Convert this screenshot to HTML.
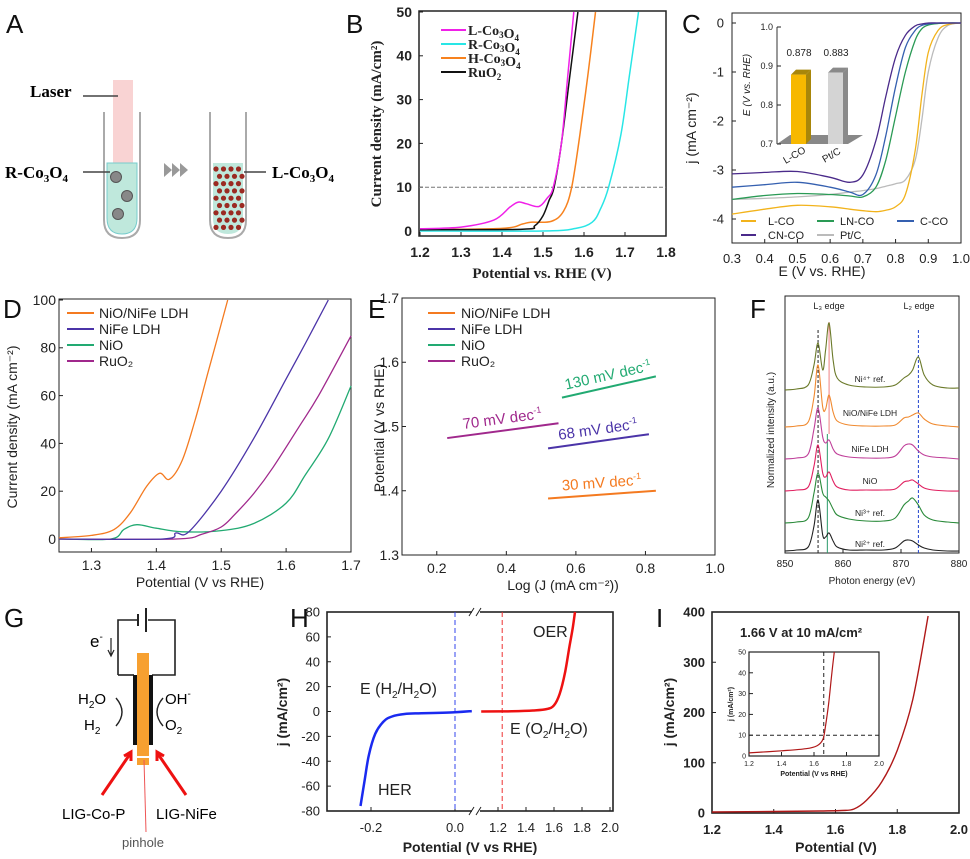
<!DOCTYPE html>
<html><head><meta charset="utf-8">
<style>
html,body{margin:0;padding:0;background:#fff;}
svg{display:block;font-family:"Liberation Sans",sans-serif;}
.s{font-family:"Liberation Serif",serif;font-weight:bold;}
</style></head>
<body>
<svg id="fig" xmlns="http://www.w3.org/2000/svg" width="970" height="859" viewBox="0 0 970 859">
<rect width="970" height="859" fill="#fff"/>
<g font-size="26" fill="#111">
<text x="6" y="33">A</text>
<text x="346" y="33">B</text>
<text x="682" y="33">C</text>
<text x="3" y="318">D</text>
<text x="368" y="318">E</text>
<text x="750" y="318">F</text>
<text x="4" y="627">G</text>
<text x="290" y="627">H</text>
<text x="656" y="627">I</text>
</g>
<g>
<rect x="113" y="80" width="20" height="84" fill="#f8c8c8" opacity="0.8"/>
<text x="30" y="97" class="s" font-size="17">Laser</text>
<line x1="83" y1="96" x2="118" y2="96" stroke="#444" stroke-width="1.5"/>
<path d="M104 112 L104 220 Q104 238 122 238 Q140 238 140 220 L140 112" fill="none" stroke="#aaa" stroke-width="2"/>
<path d="M107 163 L137 163 L137 218 Q137 234 122 234 Q107 234 107 218Z" fill="#bfe8dc" stroke="#7cc"/>
<circle cx="116" cy="177" r="5.5" fill="#888" stroke="#555"/>
<circle cx="127" cy="196" r="5.5" fill="#888" stroke="#555"/>
<circle cx="118" cy="214" r="5.5" fill="#888" stroke="#555"/>
<text x="5" y="178" class="s" font-size="17">R-Co<tspan font-size="11" dy="4">3</tspan><tspan dy="-4">O</tspan><tspan font-size="11" dy="4">4</tspan></text>
<line x1="83" y1="172" x2="110" y2="172" stroke="#444" stroke-width="1.5"/>
<path d="M164 163 l8 7 l-8 7Z M172 163 l8 7 l-8 7Z M180 163 l8 7 l-8 7Z" fill="#999"/>
<path d="M210 112 L210 220 Q210 238 228 238 Q246 238 246 220 L246 112" fill="none" stroke="#aaa" stroke-width="2"/>
<path d="M213 163 L243 163 L243 218 Q243 234 228 234 Q213 234 213 218Z" fill="#bfe8dc"/>
<g fill="#9b2a22" id="dots"></g>
<text x="272" y="178" class="s" font-size="17">L-Co<tspan font-size="11" dy="4">3</tspan><tspan dy="-4">O</tspan><tspan font-size="11" dy="4">4</tspan></text>
<line x1="244" y1="172" x2="266" y2="172" stroke="#444" stroke-width="1.5"/>
</g>
<g font-size="15">
<path d="M118 675 L118 620 L138 620 M148 620 L175 620 L175 675 L152 675" fill="none" stroke="#222" stroke-width="1.6"/>
<line x1="138" y1="614" x2="138" y2="626" stroke="#222" stroke-width="2"/>
<line x1="146" y1="608" x2="146" y2="632" stroke="#222" stroke-width="2"/>
<line x1="118" y1="675" x2="134" y2="675" stroke="#222" stroke-width="1.6"/>
<text x="90" y="647" font-size="17">e<tspan font-size="10" dy="-7">-</tspan></text>
<path d="M111 638 L111 655 M108 650 L111 656 L114 650" stroke="#222" fill="none" stroke-width="1.2"/>
<rect x="137" y="653" width="12" height="112" fill="#f7a030"/>
<rect x="133" y="675" width="4" height="70" fill="#111"/>
<rect x="149" y="675" width="4" height="70" fill="#111"/>
<rect x="137" y="756" width="12" height="2" fill="#fff"/>
<text x="78" y="704">H<tspan font-size="10" dy="4">2</tspan><tspan dy="-4">O</tspan></text>
<text x="84" y="730">H<tspan font-size="10" dy="4">2</tspan></text>
<text x="165" y="704">OH<tspan font-size="10" dy="-7">-</tspan></text>
<text x="165" y="730">O<tspan font-size="10" dy="4">2</tspan></text>
<path d="M116 698 Q128 712 116 726" fill="none" stroke="#222" stroke-width="1.4"/>
<path d="M163 698 Q151 712 163 726" fill="none" stroke="#222" stroke-width="1.4"/>
<path d="M102 795 L130 754 M124 756 L131 752 L131 761" stroke="#e11" stroke-width="3" fill="none"/>
<path d="M186 795 L158 754 M164 756 L157 752 L157 761" stroke="#e11" stroke-width="3" fill="none"/>
<text x="62" y="819">LIG-Co-P</text>
<text x="156" y="819">LIG-NiFe</text>
<line x1="144" y1="760" x2="146" y2="832" stroke="#e55" stroke-width="1"/>
<text x="122" y="847" font-size="13" fill="#555">pinhole</text>
</g>
<g id="charts"></g>
</svg>
<script>
// ---------- DATA ----------
const bX_L = [1.2,1.3,1.38,1.42,1.44,1.46,1.49,1.51,1.525,1.545,1.56,1.575];
const bY_L = [0.5,0.9,2.5,5.5,6.6,6.2,5.6,7.5,10,20,35,50];
const bX_R = [1.2,1.5,1.58,1.62,1.64,1.66,1.69,1.71,1.733];
const bY_R = [0,0,0.6,2,5,10,22,35,50];
const bX_H = [1.2,1.4,1.45,1.47,1.52,1.55,1.57,1.59,1.61,1.628];
const bY_H = [0.3,0.6,1.6,2,2.2,4.5,10,22,36,50];
const bX_Ru = [1.2,1.45,1.48,1.5,1.515,1.527,1.545,1.565,1.585];
const bY_Ru = [0.3,0.4,1.2,3.5,7,10,20,35,50];
const bXticks = [1.2,1.3,1.4,1.5,1.6,1.7,1.8];
const bYticks = [0,10,20,30,40,50];
const cE = [0.3,0.4,0.5,0.6,0.66,0.7,0.74,0.77,0.8,0.83,0.86,0.88,0.9,0.93,0.96,1.0];
const cLCO = [-3.9,-3.8,-3.72,-3.75,-3.8,-3.83,-3.85,-3.82,-3.75,-3.5,-2.6,-1.5,-0.6,-0.15,-0.03,0];
const cLNCO = [-3.6,-3.52,-3.48,-3.5,-3.53,-3.55,-3.35,-2.8,-1.9,-1.0,-0.35,-0.12,-0.04,-0.01,0,0];
const cCCO = [-3.35,-3.3,-3.25,-3.35,-3.45,-3.5,-3.1,-2.3,-1.3,-0.5,-0.15,-0.05,-0.02,0,0,0];
const cCNCO = [-3.08,-3.05,-3.03,-3.15,-3.25,-3.1,-2.4,-1.5,-0.7,-0.25,-0.06,-0.02,0,0,0,0];
const cPtC = [-3.6,-3.58,-3.55,-3.5,-3.45,-3.42,-3.38,-3.33,-3.28,-3.2,-2.8,-2.0,-1.0,-0.3,-0.05,0];
const cXticks = [0.3,0.4,0.5,0.6,0.7,0.8,0.9,1.0];
const cYticks = [0,-1,-2,-3,-4];
const insetCats = ["L-CO","Pt/C"];
const insetVals = [0.878,0.883];
const insetYticks = [0.7,0.8,0.9,1.0];
const dX1 = [1.25,1.3,1.335,1.36,1.385,1.405,1.42,1.44,1.46,1.48,1.51];
const dY1 = [0.5,1.5,4,11,22,27.5,25,33,50,70,100];
const dX2 = [1.25,1.41,1.43,1.45,1.5,1.55,1.6,1.63,1.665];
const dY2 = [0,0,2.5,3,20,42,67,82,100];
const dX3 = [1.25,1.33,1.35,1.37,1.4,1.44,1.5,1.55,1.6,1.63,1.665,1.7];
const dY3 = [0,0,4,6,4.5,3,3.5,6.5,15,27,42,64];
const dX4 = [1.25,1.43,1.47,1.5,1.52,1.55,1.58,1.62,1.65,1.7];
const dY4 = [0,0,2,5,10,19,30,47,60,85];
const dXticks = [1.3,1.4,1.5,1.6,1.7];
const dYticks = [0,20,40,60,80,100];
const eX0 = [0.52,0.52,0.56,0.23];
const eX1 = [0.83,0.81,0.83,0.55];
const eV0 = [1.388,1.466,1.545,1.482];
const eV1 = [1.400,1.488,1.578,1.505];
const eSlopes = ["30 mV dec","68 mV dec","130 mV dec","70 mV dec"];
const eXticks = [0.2,0.4,0.6,0.8,1.0];
const eYticks = [1.3,1.4,1.5,1.6,1.7];
const fE = [850,852,854,855,855.7,856.5,857,857.6,858.3,859,861,864,867,869,870.5,871.3,872,873,874,875.5,878,880];
const fNi4 = [0,1,5,25,47,20,40,67,30,12,5,3,3,5,12,15,20,33,15,5,2,2];
const fNiONiFe = [0,1,5,30,62,20,18,32,15,6,2,1,1,2,9,10,12,14,8,3,1,0];
const fNiFe = [0,1,5,30,51,22,16,19,10,5,2,1,1,3,13,15,14,8,4,2,1,0];
const fNiO = [0,1,4,25,46,18,14,19,10,4,1,1,1,2,9,10,11,7,3,1,0,0];
const fNi3 = [0,1,5,30,50,30,26,22,14,8,4,2,2,5,18,22,25,18,8,3,1,0];
const fNi2 = [0,1,4,25,51,16,14,18,10,4,1,1,1,3,10,11,10,6,3,1,0,0];
const fXticks = [850,860,870,880];
const hXher = [-0.225,-0.215,-0.205,-0.19,-0.17,-0.15,-0.12,-0.08,0,0.04];
const hYher = [-76,-55,-35,-18,-8,-4,-2,-1.4,-0.6,0.3];
const hXoer = [1.08,1.3,1.45,1.55,1.6,1.64,1.68,1.71,1.735,1.75];
const hYoer = [0,0.2,0.8,2,5,14,32,52,68,80];
const hYticks = [-80,-60,-40,-20,0,20,40,60,80];
const hXticksL = [-0.2,0.0];
const hXticksR = [1.2,1.4,1.6,1.8,2.0];
const iX = [1.2,1.4,1.55,1.62,1.66,1.7,1.75,1.8,1.85,1.9];
const iY = [2,3,4,5,8,25,62,125,225,392];
const iInX = [1.2,1.4,1.55,1.62,1.655,1.67,1.69,1.71,1.725];
const iInY = [1.5,2.5,3.5,5,8,14,25,40,50];
const iXticks = [1.2,1.4,1.6,1.8,2.0];
const iYticks = [0,100,200,300,400];
const iInXticks = [1.2,1.4,1.6,1.8,2.0];
const iInYticks = [0,10,20,30,40,50];

// ---------- HELPERS ----------
const NS = "http://www.w3.org/2000/svg";
const root = document.getElementById('charts');
function mk(tag, attrs, parent){const e=document.createElementNS(NS,tag);for(const k in attrs)e.setAttribute(k,attrs[k]);(parent||root).appendChild(e);return e;}
function lin(d0,d1,p0,p1){return v=>p0+(v-d0)/(d1-d0)*(p1-p0);}
function smooth(pts){let d="M"+pts[0][0].toFixed(1)+" "+pts[0][1].toFixed(1);
 for(let i=0;i<pts.length-1;i++){const p0=pts[Math.max(0,i-1)],p1=pts[i],p2=pts[i+1],p3=pts[Math.min(pts.length-1,i+2)];
 const c1=[p1[0]+(p2[0]-p0[0])/6,p1[1]+(p2[1]-p0[1])/6],c2=[p2[0]-(p3[0]-p1[0])/6,p2[1]-(p3[1]-p1[1])/6];
 d+=" C"+c1[0].toFixed(1)+" "+c1[1].toFixed(1)+" "+c2[0].toFixed(1)+" "+c2[1].toFixed(1)+" "+p2[0].toFixed(1)+" "+p2[1].toFixed(1);}return d;}
function curve(xs,ys,fx,fy,color,w,name){const pts=xs.map((x,i)=>[fx(x),fy(ys[i])]);
 const p=mk('path',{d:smooth(pts),fill:'none',stroke:color,'stroke-width':w||1.4});
 
 
 return p;}
function txt(x,y,s,size,anchor,extra){const t=mk('text',Object.assign({x:x,y:y,'font-size':size,'text-anchor':anchor||'middle',fill:'#222'},extra||{}));t.textContent=s;return t;}
function box(x0,y0,x1,y1,name,w){const r=mk('rect',{x:x0,y:y0,width:x1-x0,height:y1-y0,fill:'none',stroke:'#222','stroke-width':w||1.2});
 
 }
function xTicks(ticks,fx,yAxis,yLab,size,fmt,prefix,extra){ticks.forEach(v=>{const x=fx(v);
 const l=mk('line',{x1:x,y1:yAxis,x2:x,y2:yAxis-4,stroke:'#222'});
 
 
 const t=txt(x,yLab,fmt(v),size,'middle',extra);
 
 });}
function yTicks(ticks,fy,xAxis,xLab,size,fmt,prefix,extra){ticks.forEach(v=>{const y=fy(v);
 const l=mk('line',{x1:xAxis,y1:y,x2:xAxis+4,y2:y,stroke:'#222'});
 
 
 const t=txt(xLab,y+size*0.35,fmt(v),size,'end',extra);
 
 });}
function legendLine(x1,x2,y,color,label,tx,size,name,extra){const l=mk('line',{x1:x1,y1:y,x2:x2,y2:y,stroke:color,'stroke-width':2});
 
 
 const t=txt(tx,y+size*0.35,label,size,'start',extra);
 
 return t;}
function rotTitle(x,y,s,size,name,extra){const t=txt(x,y,s,size,'middle',Object.assign({transform:'rotate(-90 '+x+' '+y+')'},extra||{}));
 
 return t;}
function sub(t,s){const a=mk('tspan',{'font-size':9,dy:3},t);a.textContent=s;const b=mk('tspan',{dy:-3},t);b.textContent='';return t;}
const f1=v=>v.toFixed(1), f0=v=>String(v);

const dots=document.getElementById('dots');
for(let r=0;r<9;r++)for(let c=0;c<4;c++){const cx=216+c*7.5+(r%2)*3.5, cy=169+r*7.3; if(cy>230&&(c==0||c==3))continue;
 mk('circle',{cx:cx,cy:cy,r:2.6},dots);}

// ---------- PANEL B ----------
{const fx=lin(1.2,1.8,420,666), fy=lin(0,50,231,12);
box(419,11,666,236,'b-plot-frame',1.5);
xTicks(bXticks,fx,236,257,14,f1,'b',{'font-weight':'bold'});
yTicks(bYticks,fy,419,412,14,f0,'b',{'font-weight':'bold'});
const dl=mk('line',{x1:419,y1:fy(10),x2:666,y2:fy(10),stroke:'#777','stroke-dasharray':'4,2'});


curve(bX_R,bY_R,fx,fy,'#28e6e6',1.5,'b-series-r-co3o4');
curve(bX_H,bY_H,fx,fy,'#f7821e',1.5,'b-series-h-co3o4');
curve(bX_Ru,bY_Ru,fx,fy,'#111',1.5,'b-series-ruo2');
curve(bX_L,bY_L,fx,fy,'#f020e8',1.5,'b-series-l-co3o4');
const ser={'class':'s'};
const mkCo=(t)=>{sub(t,'3');const o=mk('tspan',{},t);o.textContent='O';sub(t,'4');};
mkCo(legendLine(441,466,30,'#f020e8','L-Co',468,14,'b-legend-l-co3o4',ser));
mkCo(legendLine(441,466,44,'#28e6e6','R-Co',468,14,'b-legend-r-co3o4',ser));
mkCo(legendLine(441,466,58,'#f7821e','H-Co',468,14,'b-legend-h-co3o4',ser));
sub(legendLine(441,466,72,'#111','RuO',468,14,'b-legend-ruo2',ser),'2');
rotTitle(381,124,'Current density (mA/cm²)',15,'b-y-axis-title',ser);
const xt=txt(542,278,'Potential vs. RHE (V)',15,'middle',ser);

}

// ---------- PANEL C ----------
{const fx=lin(0.3,1.0,732,961), fy=lin(0,-4,23,219);
box(732,13,961,243,'c-plot-frame',1);
xTicks(cXticks,fx,243,263,13,f1,'c');
yTicks(cYticks,fy,732,724,13,f0,'c');
curve(cE,cPtC,fx,fy,'#bbb',1.3,'c-series-ptc');
curve(cE,cLCO,fx,fy,'#f2b31c',1.3,'c-series-l-co');
curve(cE,cLNCO,fx,fy,'#2a9a55',1.3,'c-series-ln-co');
curve(cE,cCCO,fx,fy,'#3560b0',1.3,'c-series-c-co');
curve(cE,cCNCO,fx,fy,'#4a2a8a',1.3,'c-series-cn-co');
legendLine(741,756,221,'#f2b31c','L-CO',768,11,'c-legend-l-co');
legendLine(817,834,221,'#2a9a55','LN-CO',840,11,'c-legend-ln-co');
legendLine(897,914,221,'#3560b0','C-CO',920,11,'c-legend-c-co');
legendLine(741,756,235,'#4a2a8a','CN-CO',768,11,'c-legend-cn-co');
legendLine(817,834,235,'#bbb','Pt/C',840,11,'c-legend-ptc');
rotTitle(696,128,'j (mA cm⁻²)',14,'c-y-axis-title');
const xt=txt(822,276,'E (V vs. RHE)',14);


const iy=lin(0.7,1.0,144,27);
const ax=mk('path',{d:'M777 27 L777 144',stroke:'#333',fill:'none'});


const fl=mk('polygon',{points:'777,144 848,144 863,135 790,135',fill:'#888'});


yTicks(insetYticks,iy,777,773,9,f1,'c-inset');
const bcol=['#f7b800','#d4d4d4'], scol=['#a8860a','#8a8a8a'];
insetCats.forEach((c,i)=>{const x0=791+i*37, w=15, yt=iy(insetVals[i]);
 const side=mk('polygon',{points:[x0+w,yt, x0+w+5,yt-5, x0+w+5,139, x0+w,144].join(' '),fill:scol[i]});
 
 
 const top=mk('polygon',{points:[x0,yt, x0+5,yt-5, x0+w+5,yt-5, x0+w,yt].join(' '),fill:scol[i]});
 
 
 const b=mk('rect',{x:x0,y:yt,width:w,height:144-yt,fill:bcol[i]});
 
 
 const v=txt(x0+8,56,insetVals[i].toFixed(3),10);
 
 
 const l=txt(x0+5,158,c,10,'middle',{transform:'rotate(-30 '+(x0+5)+' 158)'});
 
 });
rotTitle(750,85,'E (V vs. RHE)',10,'c-inset-y-axis-title',{'font-style':'italic'});}

// ---------- PANEL D ----------
{const fx=lin(1.25,1.7,59,351), fy=lin(0,100,539,300);
box(59,299,351,552,'d-plot-frame',1);
xTicks(dXticks,fx,552,570,14,f1,'d');
yTicks(dYticks,fy,59,56,14,f0,'d');
curve(dX3,dY3,fx,fy,'#22aa72',1.3,'d-series-nio');
curve(dX4,dY4,fx,fy,'#a0288c',1.3,'d-series-ruo2');
curve(dX2,dY2,fx,fy,'#4b34a8',1.3,'d-series-nife-ldh');
curve(dX1,dY1,fx,fy,'#f47a20',1.3,'d-series-nio-nife-ldh');
legendLine(67,94,313,'#f47a20','NiO/NiFe LDH',99,14,'d-legend-nio-nife-ldh');
legendLine(67,94,329,'#4b34a8','NiFe LDH',99,14,'d-legend-nife-ldh');
legendLine(67,94,345,'#22aa72','NiO',99,14,'d-legend-nio');
legendLine(67,94,361,'#a0288c','RuO₂',99,14,'d-legend-ruo2');
rotTitle(17,427,'Current density (mA cm⁻²)',14,'d-y-axis-title');
const xt=txt(200,587,'Potential (V vs RHE)',14);

}

// ---------- PANEL E ----------
{const fx=lin(0.1,1.0,402,715), fy=lin(1.3,1.7,555,298);
box(402,298,715,555,'e-plot-frame',1);
xTicks(eXticks,fx,555,573,14,f1,'e');
yTicks(eYticks,fy,402,399,14,f1,'e');
const cols=['#f47a20','#4b34a8','#22aa72','#a0288c'];
const nm=['e-tafel-nio-nife-ldh','e-tafel-nife-ldh','e-tafel-nio','e-tafel-ruo2'];
eX0.forEach((x0,i)=>{const X0=fx(x0),Y0=fy(eV0[i]),X1=fx(eX1[i]),Y1=fy(eV1[i]);
 const l=mk('line',{x1:X0,y1:Y0,x2:X1,y2:Y1,stroke:cols[i],'stroke-width':2});
 
 
 const ang=Math.atan2(Y1-Y0,X1-X0)*180/Math.PI, mx=(X0+X1)/2, my=(Y0+Y1)/2-7;
 const t=txt(mx,my,eSlopes[i],15,'middle',{fill:cols[i],transform:'rotate('+ang.toFixed(1)+' '+mx+' '+my+')'});
 const s=mk('tspan',{'font-size':9,dy:-6},t); s.textContent='-1';
 
 });
legendLine(428,455,313,'#f47a20','NiO/NiFe LDH',461,14,'e-legend-nio-nife-ldh');
legendLine(428,455,329,'#4b34a8','NiFe LDH',461,14,'e-legend-nife-ldh');
legendLine(428,455,345,'#22aa72','NiO',461,14,'e-legend-nio');
legendLine(428,455,361,'#a0288c','RuO₂',461,14,'e-legend-ruo2');
rotTitle(384,428,'Potential (V vs RHE)',14,'e-y-axis-title');
const xt=txt(563,590,'Log (J (mA cm⁻²))',14);

}

// ---------- PANEL F ----------
{const fx=lin(850,880,785,959);
box(785,296,959,553,'f-plot-frame',1);
xTicks(fXticks,fx,553,567,10,f0,'f');
const series=[[fNi4,390,'#6b7a2a','Ni⁴⁺ ref.','f-spectrum-ni4-ref',382],[fNiONiFe,427,'#f08a30','NiO/NiFe LDH','f-spectrum-nio-nife-ldh',416],
 [fNiFe,459,'#c0409a','NiFe LDH','f-spectrum-nife-ldh',452],[fNiO,491,'#e02060','NiO','f-spectrum-nio',484],
 [fNi3,523,'#2a8a3a','Ni³⁺ ref.','f-spectrum-ni3-ref',516],[fNi2,551,'#222','Ni²⁺ ref.','f-spectrum-ni2-ref',547]];
const v1=mk('line',{x1:fx(855.7),y1:330,x2:fx(855.7),y2:553,stroke:'#222','stroke-dasharray':'3,2'});


const v2=mk('line',{x1:fx(873),y1:330,x2:fx(873),y2:553,stroke:'#2244cc','stroke-dasharray':'3,2'});


const v3=mk('line',{x1:fx(857.6),y1:322,x2:fx(857.6),y2:434,stroke:'#f08080'});


const v4=mk('line',{x1:fx(857.3),y1:434,x2:fx(857.3),y2:553,stroke:'#2a9a6a'});


const fy0=lin(0,1,0,-1);
series.forEach(s=>{const base=s[1]; curve(fE,s[0],fx,v=>base+fy0(v),s[2],1.1,s[4]);
 const t=txt(870,s[5],s[3],8.5);  });
const a=txt(829,309,'L₃ edge',9);  
const b=txt(919,309,'L₂ edge',9);  
rotTitle(774,430,'Normalized intensity (a.u.)',10,'f-y-axis-title');
const xt=txt(872,584,'Photon energy (eV)',10);

}

// ---------- PANEL H ----------
{const fxL=lin(-0.3,0.0,329,455), fxR=lin(1.2,2.0,498,610), fy=lin(-80,80,811,612);
box(327,612,613,811,'h-plot-frame',1.6);
yTicks(hYticks,fy,327,320,13,f0,'h');
xTicks(hXticksL,fxL,811,832,13,f1,'h');
xTicks(hXticksR,fxR,811,832,13,f1,'h');
[612,811].forEach(y=>{const g=mk('rect',{x:472,y:y-3,width:8,height:6,fill:'#fff'});
 
 
 const p=mk('path',{d:'M469 '+(y+4)+' l5 -8 M476 '+(y+4)+' l5 -8',stroke:'#222',fill:'none'});
 
 });
const b=mk('line',{x1:fxL(0),y1:612,x2:fxL(0),y2:811,stroke:'#3344ee','stroke-dasharray':'5,3'});


const r=mk('line',{x1:fxR(1.23),y1:612,x2:fxR(1.23),y2:811,stroke:'#ee3333','stroke-dasharray':'5,3'});


curve(hXher,hYher,fxL,fy,'#1a2af0',2.5,'h-series-her');
curve(hXoer,hYoer,v=>v<1.2?fxR(1.2)-(1.2-v)*140:fxR(v),fy,'#ee1111',2.5,'h-series-oer');
[['OER',533,637,'h-oer-label'],['HER',378,795,'h-her-label']].forEach(a=>{const t=txt(a[1],a[2],a[0],16,'start');});
const e1=txt(360,694,'E (H',16,'start'); const s1=mk('tspan',{'font-size':10,dy:4},e1); s1.textContent='2'; const s2=mk('tspan',{dy:-4},e1); s2.textContent='/H'; const s3=mk('tspan',{'font-size':10,dy:4},e1); s3.textContent='2'; const s4=mk('tspan',{dy:-4},e1); s4.textContent='O)';
 
const e2=txt(510,734,'E (O',16,'start'); const t1=mk('tspan',{'font-size':10,dy:4},e2); t1.textContent='2'; const t2=mk('tspan',{dy:-4},e2); t2.textContent='/H'; const t3=mk('tspan',{'font-size':10,dy:4},e2); t3.textContent='2'; const t4=mk('tspan',{dy:-4},e2); t4.textContent='O)';
 
rotTitle(287,712,'j (mA/cm²)',14,'h-y-axis-title',{'font-weight':'bold'});
const xt=txt(470,852,'Potential (V vs RHE)',14,'middle',{'font-weight':'bold'});

}

// ---------- PANEL I ----------
{const fx=lin(1.2,2.0,712,959), fy=lin(0,400,813,612);
box(712,612,959,813,'i-plot-frame',1.6);
xTicks(iXticks,fx,813,834,13,f1,'i',{'font-weight':'bold'});
yTicks(iYticks,fy,712,705,13,f0,'i',{'font-weight':'bold'});
curve(iX,iY,fx,fy,'#b01818',1.4,'i-series-lsv');
const t=txt(740,637,'1.66 V at 10 mA/cm²',13,'start',{'font-weight':'bold'});


const gx=lin(1.2,2.0,749,879), gy=lin(0,50,756,652);
box(749,652,879,756,'i-inset-frame',1.2);
xTicks(iInXticks,gx,756,766,7,f1,'i-inset');
yTicks(iInYticks,gy,749,746,7,f0,'i-inset');
const h=mk('line',{x1:749,y1:gy(10),x2:879,y2:gy(10),stroke:'#222','stroke-dasharray':'4,3'});


const v=mk('line',{x1:gx(1.66),y1:652,x2:gx(1.66),y2:756,stroke:'#222','stroke-dasharray':'4,3'});


curve(iInX,iInY,gx,gy,'#b01818',1.2,'i-inset-series');
rotTitle(733,704,'j (mA/cm²)',7,'i-inset-y-axis-title',{'font-weight':'bold'});
const it=txt(814,776,'Potential (V vs RHE)',7,'middle',{'font-weight':'bold'});


rotTitle(674,712,'j (mA/cm²)',14,'i-y-axis-title',{'font-weight':'bold'});
const xt=txt(836,852,'Potential (V)',14,'middle',{'font-weight':'bold'});

}
</script>
</body></html>
